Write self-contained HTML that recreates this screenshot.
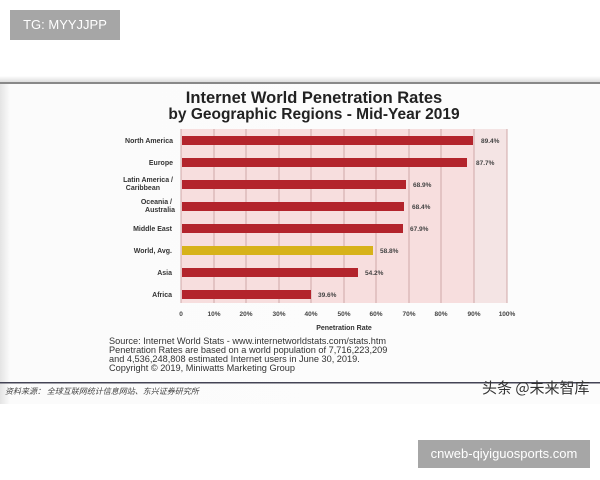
<!DOCTYPE html>
<html><head><meta charset="utf-8"><style>
body{margin:0;width:600px;height:480px;background:#fff;position:relative;overflow:hidden;font-family:"Liberation Sans",sans-serif}
.a{position:absolute}
</style></head><body>
<div class="a" style="left:10px;top:10px;width:110px;height:30px;background:#a6a6a6;color:#fff;font-size:13px;line-height:30px;text-align:center">TG: MYYJJPP</div>
<div class="a" style="left:0;top:76px;width:600px;height:6px;background:linear-gradient(#fff,#ddd)"></div>
<div class="a" style="left:0;top:82px;width:600px;height:1.5px;background:#888"></div>
<div class="a" style="left:0;top:84px;width:600px;height:320px;background:linear-gradient(90deg,#e4e4e4,#fbfbfb 10px,#fcfcfc)"></div>
<svg class="a" style="left:0;top:0" width="600" height="480">
<text x="314" y="103" font-size="16.5" font-weight="bold" text-anchor="middle" fill="#222">Internet World Penetration Rates</text>
<text x="314" y="119" font-size="15.5" font-weight="bold" text-anchor="middle" fill="#222">by Geographic Regions -  Mid-Year 2019</text>
<rect x="181" y="129" width="326" height="174" fill="#f7dede"/>
<rect x="474" y="129" width="33" height="174" fill="#f4e4e4"/>
<g stroke="#cfa8a8" stroke-width="1">
<line x1="181" y1="129" x2="181" y2="303"/><line x1="214" y1="129" x2="214" y2="303"/><line x1="246" y1="129" x2="246" y2="303"/><line x1="279" y1="129" x2="279" y2="303"/><line x1="311" y1="129" x2="311" y2="303"/><line x1="344" y1="129" x2="344" y2="303"/><line x1="376" y1="129" x2="376" y2="303"/><line x1="409" y1="129" x2="409" y2="303"/><line x1="441" y1="129" x2="441" y2="303"/><line x1="474" y1="129" x2="474" y2="303"/><line x1="507" y1="129" x2="507" y2="303"/>
</g>
<g fill="#b3242c">
<rect x="182" y="136" width="291" height="9"/><rect x="182" y="158" width="285" height="9"/><rect x="182" y="180" width="224" height="9"/><rect x="182" y="202" width="222" height="9"/><rect x="182" y="224" width="221" height="9"/><rect x="182" y="268" width="176" height="9"/><rect x="182" y="290" width="129" height="9"/>
</g>
<rect x="182" y="246" width="191" height="9" fill="#d7b21a"/>
<g font-size="7" font-weight="bold" fill="#333" text-anchor="end">
<text x="173" y="143">North America</text><text x="173" y="165">Europe</text>
<text x="173" y="182">Latin America /</text><text x="160" y="190">Caribbean</text>
<text x="172" y="204">Oceania /</text><text x="175" y="212">Australia</text>
<text x="172" y="231">Middle East</text><text x="172" y="253">World, Avg.</text>
<text x="172" y="275">Asia</text><text x="172" y="297">Africa</text>
</g>
<g font-size="6.5" font-weight="bold" fill="#444">
<text x="481" y="143">89.4%</text><text x="476" y="165">87.7%</text><text x="413" y="187">68.9%</text><text x="412" y="209">68.4%</text><text x="410" y="231">67.9%</text><text x="380" y="253">58.8%</text><text x="365" y="275">54.2%</text><text x="318" y="297">39.6%</text>
</g>
<g font-size="6.5" font-weight="bold" fill="#444" text-anchor="middle">
<text x="181" y="316">0</text><text x="214" y="316">10%</text><text x="246" y="316">20%</text><text x="279" y="316">30%</text><text x="311" y="316">40%</text><text x="344" y="316">50%</text><text x="376" y="316">60%</text><text x="409" y="316">70%</text><text x="441" y="316">80%</text><text x="474" y="316">90%</text><text x="507" y="316">100%</text>
</g>
<text x="344" y="330" font-size="7" font-weight="bold" fill="#333" text-anchor="middle">Penetration Rate</text>
<g font-size="9.2" fill="#333">
<text x="109" y="344">Source: Internet World Stats - www.internetworldstats.com/stats.htm</text>
<text x="109" y="353">Penetration Rates are based on a world population of 7,716,223,209</text>
<text x="109" y="362">and 4,536,248,808 estimated Internet users in June 30, 2019.</text>
<text x="109" y="371">Copyright © 2019, Miniwatts Marketing Group</text>
</g>
<rect x="0" y="382" width="600" height="1.5" fill="#445"/>
<text x="5" y="394" font-size="8" font-style="italic" fill="#444" font-family="Noto Sans CJK SC,sans-serif">资料来源： 全球互联网统计信息网站、东兴证券研究所</text>
<text x="482" y="393" font-size="15" fill="#333" font-family="Noto Sans CJK SC,sans-serif">头条 @未来智库</text>
</svg>
<div class="a" style="left:418px;top:440px;width:172px;height:28px;background:#a6a6a6;color:#fff;font-size:13px;line-height:28px;text-align:center">cnweb-qiyiguosports.com</div>
</body></html>
